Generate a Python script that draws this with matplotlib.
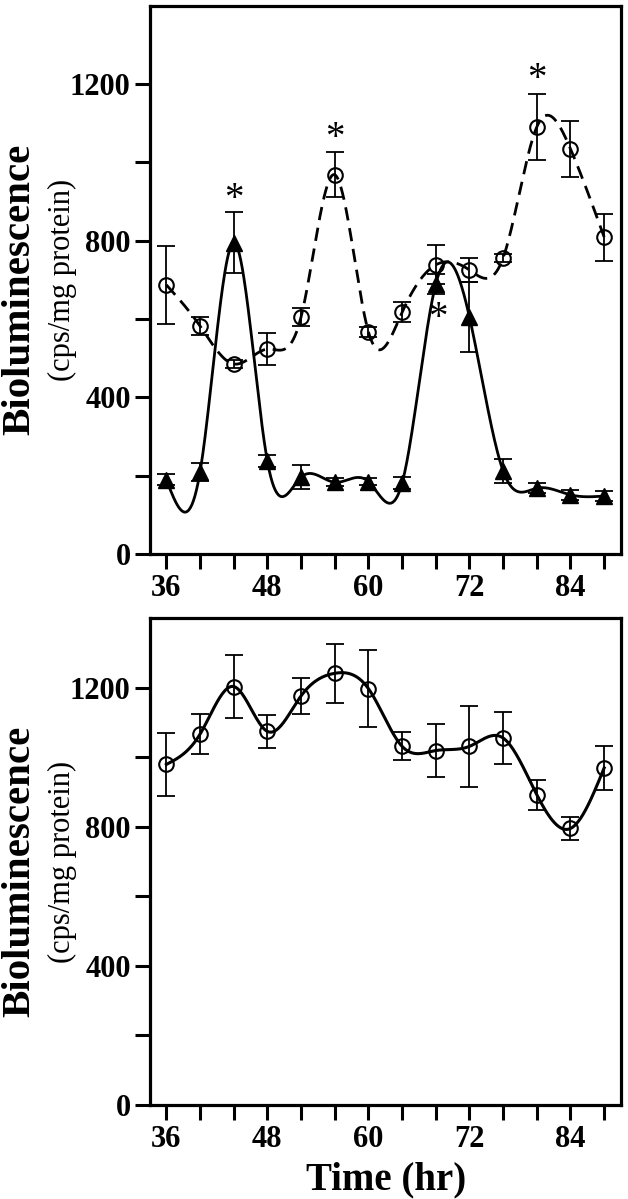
import numpy as np
import matplotlib
matplotlib.use("Agg")
import matplotlib.pyplot as plt

# ---------------- data ----------------
time_hr = [36, 40, 44, 48, 52, 56, 60, 64, 68, 72, 76, 80, 84, 88]

top_circle = [687, 582, 485, 523, 605, 968, 567, 617, 738, 725, 756, 1090, 1034, 809]
top_circle_err = [100, 22, 10, 41, 23, 58, 12, 25, 50, 30, 10, 85, 72, 60]

top_triangle = [190, 209, 795, 237, 196, 183, 185, 181, 689, 605, 212, 168, 151, 148]
top_triangle_err = [15, 23, 78, 15, 30, 10, 10, 15, 25, 90, 30, 12, 12, 12]

bottom_circle = [979, 1066, 1203, 1074, 1176, 1241, 1197, 1031, 1019, 1031, 1055, 892, 795, 969]
bottom_circle_err = [90, 57, 90, 48, 51, 84, 111, 40, 75, 117, 74, 43, 32, 63]

# asterisk annotations (x, y) in data units
star_x = [44, 56, 80, 68.3]
star_y = [905, 1060, 1210, 600]

x_ticks_major = [36, 48, 60, 72, 84]
y_ticks_major = [0, 400, 800, 1200]


def natural_spline(x, y, xs):
    x = np.asarray(x, float)
    y = np.asarray(y, float)
    n = len(x)
    h = np.diff(x)
    A = np.zeros((n, n))
    b = np.zeros(n)
    A[0, 0] = 1
    A[-1, -1] = 1
    for i in range(1, n - 1):
        A[i, i - 1] = h[i - 1]
        A[i, i] = 2 * (h[i - 1] + h[i])
        A[i, i + 1] = h[i]
        b[i] = 6 * ((y[i + 1] - y[i]) / h[i] - (y[i] - y[i - 1]) / h[i - 1])
    M = np.linalg.solve(A, b)
    idx = np.clip(np.searchsorted(x, xs) - 1, 0, n - 2)
    x0, x1 = x[idx], x[idx + 1]
    hh = x1 - x0
    t0 = x1 - xs
    t1 = xs - x0
    return (M[idx] * t0 ** 3 / (6 * hh) + M[idx + 1] * t1 ** 3 / (6 * hh)
            + (y[idx] / hh - M[idx] * hh / 6) * t0
            + (y[idx + 1] / hh - M[idx + 1] * hh / 6) * t1)


plt.rcParams['font.family'] = ['Liberation Serif', 'DejaVu Serif']

W, H = 628, 1199
fig = plt.figure(figsize=(W / 100, H / 100), dpi=100)

def px_axes(left, top, right, bottom):
    return fig.add_axes([left / W, 1 - bottom / H, (right - left) / W, (bottom - top) / H])

ax1 = px_axes(149.5, 5.5, 621, 554)
ax2 = px_axes(149.5, 618, 621, 1105)

xs = np.linspace(36, 88, 600)

err_kw = dict(fmt='none', ecolor='black', elinewidth=1.3, capsize=6.5, capthick=1.3, zorder=2)

# top panel
ax1.errorbar(time_hr, top_circle, yerr=top_circle_err, **err_kw)
ax1.errorbar(time_hr, top_triangle, yerr=top_triangle_err, **err_kw)
ax1.plot(xs, natural_spline(time_hr, top_circle, xs), color='black', lw=2.0,
         dashes=(4.8, 2.8), zorder=3)
ax1.plot(xs, natural_spline(time_hr, top_triangle, xs), color='black', lw=2.0, zorder=3)
ax1.plot(time_hr, top_circle, 'o', ms=10.5, mfc='none', mec='black', mew=1.5, zorder=4)
ax1.plot(time_hr, top_triangle, '^', ms=11, mfc='black', mec='black', zorder=4)
for sx, sy in zip(star_x, star_y):
    ax1.text(sx, sy, '*', ha='center', va='center', fontsize=28, color='black')

# bottom panel
ax2.errorbar(time_hr, bottom_circle, yerr=bottom_circle_err, **err_kw)
ax2.plot(xs, natural_spline(time_hr, bottom_circle, xs), color='black', lw=2.2, zorder=3)
ax2.plot(time_hr, bottom_circle, 'o', ms=10.5, mfc='none', mec='black', mew=1.5, zorder=4)

for ax in (ax1, ax2):
    ax.set_xlim(34, 90)
    ax.set_ylim(0, 1400)
    ax.set_xticks(x_ticks_major)
    ax.set_xticks(time_hr, minor=True)
    ax.set_yticks(y_ticks_major)
    ax.set_yticks([200, 600, 1000], minor=True)
    for s in ax.spines.values():
        s.set_linewidth(2.3)
    ax.tick_params(which='both', direction='out', length=10.5, width=2.2, labelsize=22)
    ax.tick_params(axis='x', which='major', pad=4)
    ax.tick_params(axis='y', which='major', pad=3)
    for lab in ax.get_xticklabels() + ax.get_yticklabels():
        lab.set_fontweight('bold')

for (top, bot) in [(5.5, 554), (618, 1105)]:
    cy_big = 1 - ((top + bot) / 2 + 10) / H
    cy_small = 1 - ((top + bot) / 2) / H
    fig.text(20 / W, cy_big, 'Bioluminescence', rotation=90, ha='center', va='center',
             fontsize=29.5, fontweight='bold')
    fig.text(62 / W, cy_small, '(cps/mg protein)', rotation=90, ha='center', va='center',
             fontsize=22)

fig.text(386 / W, 1 - 1189 / H, 'Time (hr)', ha='center', va='baseline',
         fontsize=28, fontweight='bold')

fig.savefig('out.png', dpi=100)
